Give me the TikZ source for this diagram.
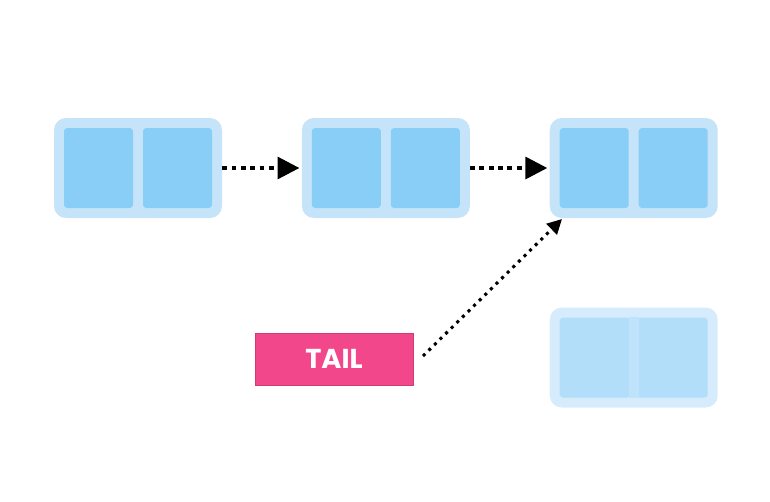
\documentclass[tikz,border=0pt]{standalone}
\usepackage{fontspec}
\newfontfamily\poppins{Poppins}
\usetikzlibrary{arrows.meta,positioning}
\definecolor{cellouter}{RGB}{197,228,249}
\definecolor{cellinner}{RGB}{136,206,246}
\definecolor{fadeouter}{RGB}{214,236,252}
\definecolor{fadeinner}{RGB}{178,222,250}
\definecolor{fadediv}{RGB}{190,227,251}
\definecolor{tailpink}{RGB}{243,71,139}

\begin{document}
\begin{tikzpicture}[x=0.75pt,y=-0.75pt,node distance=59.5pt,
  listnode/.style={rectangle,rounded corners=9pt,fill=cellouter,minimum width=126pt,minimum height=75pt,inner sep=0pt},
  cell/.style={rectangle,rounded corners=2.5pt,fill=cellinner,minimum width=51.75pt,minimum height=60pt,inner sep=0pt},
  nextarrow/.style={line width=3.6pt,dash pattern=on 3.6pt off 3.4pt,-{Triangle[length=16.5pt,width=16pt]},shorten >=1.5pt}]
  \useasboundingbox (0,0) rectangle (770,501);
  \node[listnode] (n1) at (138,168) {};
  \node[listnode,right=of n1] (n2) {};
  \node[listnode,right=of n2] (n3) {};
  \node[listnode,below=66.75pt of n3,fill=fadeouter] (n4) {};
  \node[cell,right=7.5pt of n1.west] (n1l) {};
  \node[cell,left=7.5pt of n1.east] (n1r) {};
  \node[cell,right=7.5pt of n2.west] (n2l) {};
  \node[cell,left=7.5pt of n2.east] (n2r) {};
  \node[cell,right=7.5pt of n3.west] (n3l) {};
  \node[cell,left=7.5pt of n3.east] (n3r) {};
  \node[cell,right=7.5pt of n4.west,fill=fadeinner,minimum width=53pt] (n4l) {};
  \node[cell,left=7.5pt of n4.east,fill=fadeinner,minimum width=53pt] (n4r) {};
  \node[fill=fadediv,minimum width=7.6pt,minimum height=61pt,inner sep=0pt] (n4d) at (n4) {};
  \node[fill=tailpink,draw=tailpink!85!black,line width=0.4pt,minimum width=118.5pt,minimum height=39pt,
    text=white,font=\poppins\bfseries\fontsize{20.5}{22}\selectfont] (tail) at (334,359) {TAIL};
  \coordinate (tailfrom) at (423,356);
  \coordinate (tailto) at (562,219);
  \draw[nextarrow] (n1) -- (n2);
  \draw[nextarrow] (n2) -- (n3);
  \draw[line width=2.3pt,dash pattern=on 2.3pt off 3.6pt,-{Triangle[length=11pt,width=11pt]}] (tailfrom) -- (tailto);
\end{tikzpicture}
\end{document}
